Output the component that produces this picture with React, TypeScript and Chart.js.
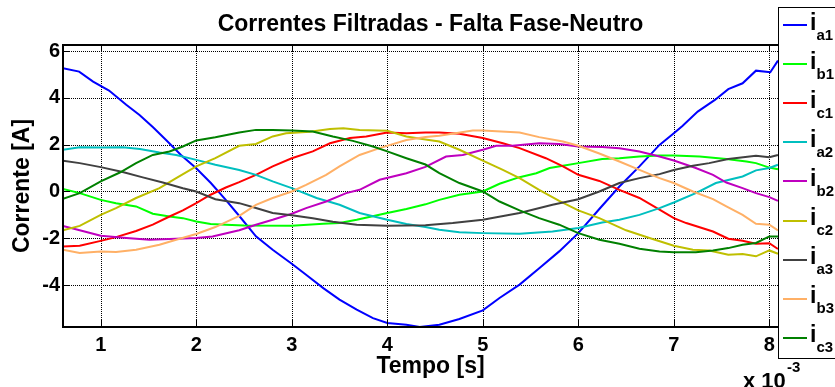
import { useEffect, useRef } from "react";
import { Chart, registerables } from "chart.js";

Chart.register(...registerables);

// Time axis is in units of 1e-3 s (shown with the "x 10^-3" multiplier)
const X_MIN = 0.605;
const X_MAX = 8.3;
const Y_MIN = -5.79;
const Y_MAX = 6.256;

const xTicks = [1, 2, 3, 4, 5, 6, 7, 8];
const yTicks = [-4, -2, 0, 2, 4, 6];

// [tempo, corrente] samples for each filtered current
const ia1: [number, number][] = [
  [0.605, 5.26], [0.774, 5.12], [0.92, 4.69], [1.087, 4.31], [1.267, 3.7], [1.406, 3.27],
  [1.545, 2.75], [1.684, 2.2], [1.84, 1.56], [1.997, 1.0], [2.153, 0.36], [2.309, -0.36],
  [2.455, -1.07], [2.625, -1.92], [2.8, -2.49], [3.0, -3.09], [3.15, -3.56], [3.33, -4.13],
  [3.5, -4.62], [3.68, -5.05], [3.85, -5.41], [4.0, -5.62], [4.2, -5.69], [4.34, -5.79],
  [4.545, -5.69], [4.755, -5.45], [5.0, -5.08], [5.175, -4.55], [5.385, -3.98], [5.594, -3.27],
  [5.8, -2.56], [6.0, -1.78], [6.22, -0.75], [6.43, 0.21], [6.64, 1.07], [6.85, 1.99],
  [7.0, 2.49], [7.09, 2.8], [7.25, 3.41], [7.43, 3.91], [7.57, 4.37], [7.72, 4.62],
  [7.86, 5.16], [8.01, 5.09], [8.09, 5.59],
];
const ib1: [number, number][] = [
  [0.605, 0.11], [0.78, -0.07], [1.0, -0.36], [1.16, -0.5], [1.37, -0.64], [1.545, -0.95],
  [1.72, -1.07], [1.86, -1.14], [2.0, -1.28], [2.15, -1.39], [2.31, -1.42], [2.5, -1.45],
  [3.0, -1.47], [3.33, -1.38], [3.5, -1.35], [3.68, -1.21], [4.0, -0.92], [4.2, -0.75],
  [4.4, -0.55], [4.545, -0.36], [4.755, -0.14], [5.0, 0.0], [5.175, 0.33], [5.385, 0.61],
  [5.56, 0.78], [5.7, 1.0], [5.84, 1.1], [6.0, 1.21], [6.25, 1.39], [6.43, 1.42],
  [6.64, 1.49], [6.85, 1.54], [7.0, 1.54], [7.27, 1.49], [7.55, 1.39], [7.76, 1.28],
  [7.86, 1.21], [8.0, 1.02], [8.09, 0.95],
];
const ic1: [number, number][] = [
  [0.605, -2.35], [0.78, -2.32], [1.0, -2.11], [1.16, -1.95], [1.37, -1.69], [1.545, -1.42],
  [1.72, -1.07], [1.86, -0.81], [2.0, -0.5], [2.15, -0.14], [2.31, 0.17], [2.45, 0.4],
  [2.625, 0.71], [2.8, 1.07], [3.0, 1.42], [3.22, 1.71], [3.4, 2.06], [3.61, 2.28],
  [3.78, 2.35], [4.0, 2.52], [4.2, 2.49], [4.4, 2.52], [4.545, 2.52], [4.755, 2.46],
  [5.0, 2.28], [5.21, 2.06], [5.385, 1.85], [5.66, 1.42], [5.84, 1.07], [6.0, 0.71],
  [6.22, 0.45], [6.43, 0.07], [6.64, -0.28], [6.85, -0.78], [7.0, -1.14], [7.13, -1.35],
  [7.41, -1.71], [7.57, -2.02], [7.72, -2.11], [7.86, -2.23], [8.0, -2.21], [8.09, -2.46],
];
const ia2: [number, number][] = [
  [0.605, 1.78], [0.78, 1.89], [1.0, 1.88], [1.23, 1.89], [1.41, 1.81], [1.615, 1.66],
  [1.79, 1.56], [2.0, 1.35], [2.2, 1.14], [2.45, 0.92], [2.625, 0.71], [2.8, 0.43],
  [3.0, 0.14], [3.26, -0.28], [3.5, -0.57], [3.71, -0.92], [4.0, -1.21], [4.2, -1.39],
  [4.4, -1.52], [4.545, -1.64], [4.755, -1.74], [5.0, -1.78], [5.385, -1.81], [5.73, -1.71],
  [6.0, -1.56], [6.25, -1.33], [6.43, -1.21], [6.64, -1.0], [6.85, -0.71], [7.0, -0.47],
  [7.23, -0.07], [7.44, 0.36], [7.72, 0.64], [7.86, 0.9], [8.0, 1.0], [8.09, 1.14],
];
const ib2: [number, number][] = [
  [0.605, -1.47], [0.78, -1.66], [1.0, -1.89], [1.27, -1.99], [1.51, -2.06], [1.72, -2.03],
  [2.0, -1.99], [2.17, -1.92], [2.45, -1.66], [2.625, -1.42], [2.8, -1.21], [3.0, -0.95],
  [3.15, -0.71], [3.36, -0.43], [3.57, -0.07], [3.71, 0.07], [3.92, 0.5], [4.2, 0.78],
  [4.4, 1.05], [4.615, 1.49], [4.79, 1.56], [5.0, 1.78], [5.14, 1.95], [5.31, 1.95],
  [5.59, 2.06], [5.8, 2.03], [6.0, 1.92], [6.25, 1.9], [6.43, 1.85], [6.64, 1.71],
  [6.85, 1.49], [7.0, 1.32], [7.23, 1.0], [7.41, 0.71], [7.55, 0.38], [7.72, 0.14],
  [7.86, -0.07], [8.0, -0.24], [8.09, -0.4],
];
const ic2: [number, number][] = [
  [0.605, -1.66], [0.78, -1.47], [1.0, -1.0], [1.16, -0.71], [1.37, -0.28], [1.615, 0.14],
  [1.79, 0.57], [2.0, 1.07], [2.2, 1.42], [2.45, 1.95], [2.625, 2.03], [2.8, 2.35],
  [2.94, 2.49], [3.19, 2.55], [3.4, 2.67], [3.54, 2.7], [3.71, 2.63], [4.0, 2.59],
  [4.2, 2.35], [4.4, 2.22], [4.545, 2.13], [4.755, 1.78], [5.0, 1.32], [5.21, 0.92],
  [5.385, 0.57], [5.59, 0.07], [5.8, -0.4], [6.0, -0.81], [6.22, -1.14], [6.5, -1.66],
  [6.745, -1.99], [7.0, -2.32], [7.2, -2.49], [7.37, -2.52], [7.57, -2.7], [7.72, -2.67],
  [7.86, -2.77], [8.0, -2.52], [8.09, -2.66],
];
const ia3: [number, number][] = [
  [0.605, 1.31], [0.78, 1.21], [1.0, 1.04], [1.23, 0.83], [1.44, 0.6], [1.65, 0.38],
  [1.86, 0.14], [2.0, 0.0], [2.2, -0.33], [2.45, -0.5], [2.625, -0.71], [2.8, -0.92],
  [3.0, -1.02], [3.22, -1.14], [3.43, -1.29], [3.68, -1.42], [4.0, -1.47], [4.4, -1.44],
  [4.685, -1.35], [5.0, -1.21], [5.385, -0.92], [5.73, -0.57], [6.0, -0.33], [6.22, 0.0],
  [6.43, 0.36], [6.64, 0.57], [6.85, 0.74], [7.0, 0.92], [7.2, 1.1], [7.37, 1.21],
  [7.57, 1.39], [7.86, 1.52], [8.0, 1.46], [8.09, 1.56],
];
const ib3: [number, number][] = [
  [0.605, -2.49], [0.78, -2.63], [1.0, -2.56], [1.16, -2.59], [1.37, -2.49], [1.615, -2.28],
  [1.79, -2.06], [2.0, -1.82], [2.2, -1.52], [2.45, -1.04], [2.625, -0.57], [2.8, -0.28],
  [3.0, 0.0], [3.15, 0.28], [3.36, 0.71], [3.5, 1.07], [3.71, 1.56], [3.92, 1.85],
  [4.2, 2.2], [4.4, 2.33], [4.545, 2.38], [4.895, 2.6], [5.0, 2.6], [5.385, 2.52],
  [5.59, 2.32], [5.84, 2.13], [6.0, 1.95], [6.22, 1.62], [6.43, 1.28], [6.64, 0.92],
  [6.85, 0.57], [7.0, 0.36], [7.2, 0.0], [7.41, -0.33], [7.55, -0.64], [7.72, -1.0],
  [7.86, -1.38], [8.0, -1.42], [8.09, -1.66],
];
const ic3: [number, number][] = [
  [0.605, -0.31], [0.78, -0.07], [1.0, 0.43], [1.2, 0.81], [1.37, 1.21], [1.545, 1.56],
  [1.72, 1.71], [1.86, 1.92], [2.0, 2.18], [2.2, 2.32], [2.45, 2.52], [2.625, 2.63],
  [2.8, 2.63], [3.0, 2.6], [3.22, 2.56], [3.43, 2.35], [3.64, 2.16], [3.85, 1.92],
  [4.0, 1.71], [4.2, 1.42], [4.4, 1.15], [4.545, 0.78], [4.755, 0.36], [5.0, 0.0],
  [5.175, -0.43], [5.385, -0.81], [5.59, -1.14], [5.8, -1.42], [6.0, -1.78], [6.22, -2.06],
  [6.43, -2.23], [6.64, -2.45], [6.85, -2.56], [7.0, -2.6], [7.23, -2.6], [7.41, -2.52],
  [7.57, -2.42], [7.72, -2.28], [7.86, -2.2], [8.0, -1.92], [8.09, -1.92],
];

const seriesData = [ia1, ib1, ic1, ia2, ib2, ic2, ia3, ib3, ic3];
const seriesSubs = ["a1", "b1", "c1", "a2", "b2", "c2", "a3", "b3", "c3"];
const seriesColors = [
  "#0000ff", "#00ff00", "#ff0000", "#00bfbf", "#bf00bf",
  "#bfbf00", "#404040", "#ffb066", "#008000",
];

const FONT = '"Liberation Sans", Arial, Helvetica, sans-serif';

const framePlugin = {
  id: "matlabFrame",
  beforeDatasetsDraw(chart: any) {
    const { ctx, chartArea: a, scales } = chart;
    ctx.save();
    ctx.strokeStyle = "#000";
    ctx.lineWidth = 1;
    ctx.setLineDash([1, 1]);
    for (const v of xTicks) {
      const px = Math.round(scales.x.getPixelForValue(v)) + 0.5;
      ctx.beginPath();
      ctx.moveTo(px, a.top);
      ctx.lineTo(px, a.bottom);
      ctx.stroke();
    }
    for (const v of yTicks) {
      const py = Math.round(scales.y.getPixelForValue(v)) + 0.5;
      ctx.beginPath();
      ctx.moveTo(a.left, py);
      ctx.lineTo(a.right, py);
      ctx.stroke();
    }
    ctx.restore();
  },
  afterDatasetsDraw(chart: any) {
    const { ctx, chartArea: a, scales } = chart;
    ctx.save();
    ctx.strokeStyle = "#000";
    ctx.lineWidth = 2;
    ctx.setLineDash([]);
    ctx.strokeRect(a.left, a.top, a.right - a.left, a.bottom - a.top);
    ctx.lineWidth = 1;
    const tl = 7;
    for (const v of xTicks) {
      const px = Math.round(scales.x.getPixelForValue(v)) + 0.5;
      ctx.beginPath();
      ctx.moveTo(px, a.bottom);
      ctx.lineTo(px, a.bottom - tl);
      ctx.moveTo(px, a.top);
      ctx.lineTo(px, a.top + tl);
      ctx.stroke();
    }
    for (const v of yTicks) {
      const py = Math.round(scales.y.getPixelForValue(v)) + 0.5;
      ctx.beginPath();
      ctx.moveTo(a.left, py);
      ctx.lineTo(a.left + tl, py);
      ctx.moveTo(a.right, py);
      ctx.lineTo(a.right - tl, py);
      ctx.stroke();
    }
    ctx.restore();
  },
  afterDraw(chart: any) {
    const { ctx, chartArea: a } = chart;
    const cx = (a.left + a.right) / 2;
    const cy = (a.top + a.bottom) / 2;
    ctx.save();
    ctx.fillStyle = "#000";

    // title
    ctx.font = `bold 23px ${FONT}`;
    ctx.textAlign = "center";
    ctx.textBaseline = "alphabetic";
    ctx.fillText("Correntes Filtradas - Falta Fase-Neutro", cx, 31);

    // axis titles
    ctx.fillText("Tempo [s]", cx, 372.5);
    ctx.save();
    ctx.translate(29, cy);
    ctx.rotate(-Math.PI / 2);
    ctx.fillText("Corrente [A]", 0, 0);
    ctx.restore();

    // exponent of the time axis
    ctx.textAlign = "left";
    ctx.font = `bold 22px ${FONT}`;
    ctx.fillText("x 10", 743, 388);
    ctx.font = `bold 15px ${FONT}`;
    ctx.fillText("-3", 787, 372);

    // legend box
    ctx.fillStyle = "#fff";
    ctx.fillRect(778, 7, 80, 351);
    ctx.strokeStyle = "#000";
    ctx.lineWidth = 1;
    ctx.strokeRect(778.5, 7.5, 80, 351);
    seriesSubs.forEach((sub, k) => {
      const y = 25 + 39.1 * k;
      ctx.strokeStyle = seriesColors[k];
      ctx.lineWidth = 2;
      ctx.beginPath();
      ctx.moveTo(783, Math.round(y));
      ctx.lineTo(807, Math.round(y));
      ctx.stroke();
      ctx.fillStyle = "#000";
      ctx.font = `bold 23px ${FONT}`;
      ctx.fillText("i", 810, y + 4.5);
      ctx.font = `bold 15px ${FONT}`;
      ctx.fillText(sub, 816.5, y + 14.5);
    });
    ctx.restore();
  },
};

export default function App() {
  const canvasRef = useRef<HTMLCanvasElement | null>(null);

  useEffect(() => {
    if (!canvasRef.current) return;
    const tickFont = { family: FONT, size: 20, weight: "bold" as const };
    const chart = new Chart(canvasRef.current, {
      type: "line",
      data: {
        datasets: seriesData.map((pts, k) => ({
          label: "i" + seriesSubs[k],
          data: pts.map(([t, i]) => ({ x: t, y: i })),
          borderColor: seriesColors[k],
          backgroundColor: seriesColors[k],
          borderWidth: 2,
          pointRadius: 0,
          tension: 0,
          fill: false,
          order: seriesData.length - k,
        })),
      },
      options: {
        responsive: false,
        animation: false,
        events: [],
        layout: { padding: { left: 0, right: 37, top: 45, bottom: 0 } },
        plugins: {
          legend: { display: false },
          title: { display: false },
          tooltip: { enabled: false },
        },
        scales: {
          x: {
            type: "linear",
            min: X_MIN,
            max: X_MAX,
            afterBuildTicks: (s: any) => {
              s.ticks = xTicks.map((v) => ({ value: v }));
            },
            afterFit: (s: any) => {
              s.height = 60;
            },
            grid: { display: false, drawTicks: false },
            border: { display: false },
            ticks: {
              font: tickFont,
              color: "#000",
              padding: 6,
              maxRotation: 0,
              autoSkip: false,
            },
          },
          y: {
            type: "linear",
            min: Y_MIN,
            max: Y_MAX,
            afterBuildTicks: (s: any) => {
              s.ticks = yTicks.map((v) => ({ value: v }));
            },
            afterFit: (s: any) => {
              s.width = 63;
            },
            grid: { display: false, drawTicks: false },
            border: { display: false },
            ticks: {
              font: tickFont,
              color: "#000",
              padding: 3,
              autoSkip: false,
            },
          },
        },
      },
      plugins: [framePlugin],
    });
    return () => chart.destroy();
  }, []);

  return (
    <div style={{ position: "absolute", left: 0, top: 0, width: 835, height: 387, background: "#fff" }}>
      <canvas ref={canvasRef} width={835} height={387} style={{ display: "block" }} />
    </div>
  );
}
